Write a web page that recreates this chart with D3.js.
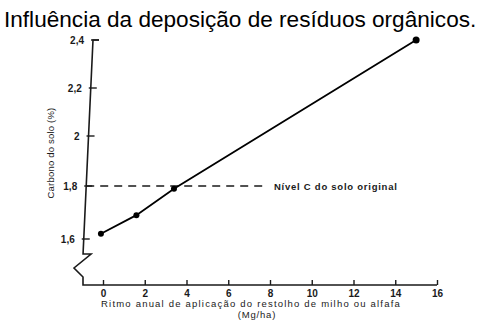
<!DOCTYPE html>
<html>
<head>
<meta charset="utf-8">
<script src="https://cdn.jsdelivr.net/npm/d3@7"></script>
<style>
  body { margin: 0; background: #fff; }
  svg text { font-family: "Liberation Sans", Arial, sans-serif; fill: #1a1a1a; }
</style>
</head>
<body>
<div id="graph"></div>
<script>
// values
const rates = [-0.1, 1.6, 3.4, 15];          // Mg/ha
const carbon = [1.62, 1.69, 1.79, 2.4];       // %
const xTicks = [0, 2, 4, 6, 8, 10, 12, 14, 16];
const yTicks = [1.6, 1.8, 2.0, 2.2, 2.4];
const originalLevel = 1.8;

const width = 481, height = 321;

let svg = d3.select("div#graph")
  .append("svg")
  .attr("width", width)
  .attr("height", height);

let xScale = d3.scaleLinear().domain([0, 16]).range([103, 437]);
// the scan is slightly stretched at the bottom, so the scale is polylinear
let yScale = d3.scaleLinear().domain([1.6, 1.8, 2.0, 2.2, 2.4]).range([239, 186, 136, 88, 40]);
// the y axis leans a little to the right towards the top
let axisX = d3.scaleLinear().domain([255, 40]).range([83, 93]);
const baseY = 285;

const ink = "#1a1a1a";
const fmt = v => String(+v.toFixed(1)).replace(".", ",");

// title
svg.append("text")
  .attr("x", 4).attr("y", 27)
  .attr("font-size", 22.6)
  .style("fill", "#000")
  .text("Influência da deposição de resíduos orgânicos.");

// y axis line with the break zigzag
let yTop = yScale(2.4);
svg.append("path")
  .attr("d", d3.line()([
    [axisX(yTop) + 6, yTop], [axisX(yTop), yTop], [axisX(254), 254],
    [axisX(254) + 8, 254], [74, 268], [83, 277], [83, baseY], [xScale(16), baseY]
  ]))
  .attr("fill", "none").attr("stroke", ink).attr("stroke-width", 1.6);

// y ticks and labels
let yt = svg.append("g").attr("class", "y axis");
yt.selectAll("line").data(yTicks).enter().append("line")
  .attr("x1", d => axisX(yScale(d)) - 2)
  .attr("x2", d => axisX(yScale(d)) + 6)
  .attr("y1", d => yScale(d)).attr("y2", d => yScale(d))
  .attr("stroke", ink).attr("stroke-width", 1.4);
yt.selectAll("text").data(yTicks).enter().append("text")
  .attr("x", d => axisX(yScale(d)) - 9)
  .attr("y", d => yScale(d) + 3.5)
  .attr("text-anchor", "end")
  .attr("font-size", 10).attr("font-weight", "bold")
  .text(fmt);

// x ticks and labels (ticks point up)
let xAxis = d3.axisBottom(xScale).tickValues(xTicks).tickSize(-5).tickPadding(5);
let xg = svg.append("g")
  .attr("class", "x axis")
  .attr("transform", `translate(0, ${baseY})`)
  .call(xAxis);
xg.select(".domain").remove();
xg.selectAll("line").attr("stroke", ink).attr("stroke-width", 1.4);
xg.selectAll("text")
  .attr("font-size", 10).attr("font-weight", "bold")
  .attr("font-family", "Liberation Sans, Arial, sans-serif")
  .style("fill", ink);

// axis titles
svg.append("text")
  .attr("x", 251).attr("y", 307)
  .attr("text-anchor", "middle")
  .attr("font-size", 9.5).attr("letter-spacing", 1.2)
  .text("Ritmo anual de aplicação do restolho de milho ou alfafa");
svg.append("text")
  .attr("x", 257).attr("y", 318)
  .attr("text-anchor", "middle")
  .attr("font-size", 9.5).attr("letter-spacing", 0.8)
  .text("(Mg/ha)");
svg.append("text")
  .attr("transform", `translate(54, 153) rotate(-90)`)
  .attr("text-anchor", "middle")
  .attr("font-size", 9.5).attr("letter-spacing", 0.2)
  .text("Carbono do solo (%)");

// reference level
let ly = yScale(originalLevel);
svg.append("line")
  .attr("x1", axisX(ly)).attr("x2", 266)
  .attr("y1", ly).attr("y2", ly)
  .attr("stroke", ink).attr("stroke-width", 1.3)
  .attr("stroke-dasharray", "8,6");
svg.append("text")
  .attr("x", 274).attr("y", ly + 3.5)
  .attr("font-size", 9.5).attr("font-weight", "bold").attr("letter-spacing", 0.75)
  .text("Nível C do solo original");

// data line and points
let pts = rates.map((r, i) => [xScale(r), yScale(carbon[i])]);
svg.append("path")
  .attr("d", d3.line()(pts))
  .attr("fill", "none").attr("stroke", "#000").attr("stroke-width", 1.8);
svg.selectAll("circle").data(pts).enter().append("circle")
  .attr("cx", d => d[0]).attr("cy", d => d[1])
  .attr("r", (d, i) => i === pts.length - 1 ? 3.5 : 3)
  .attr("fill", "#000");
</script>
</body>
</html>
